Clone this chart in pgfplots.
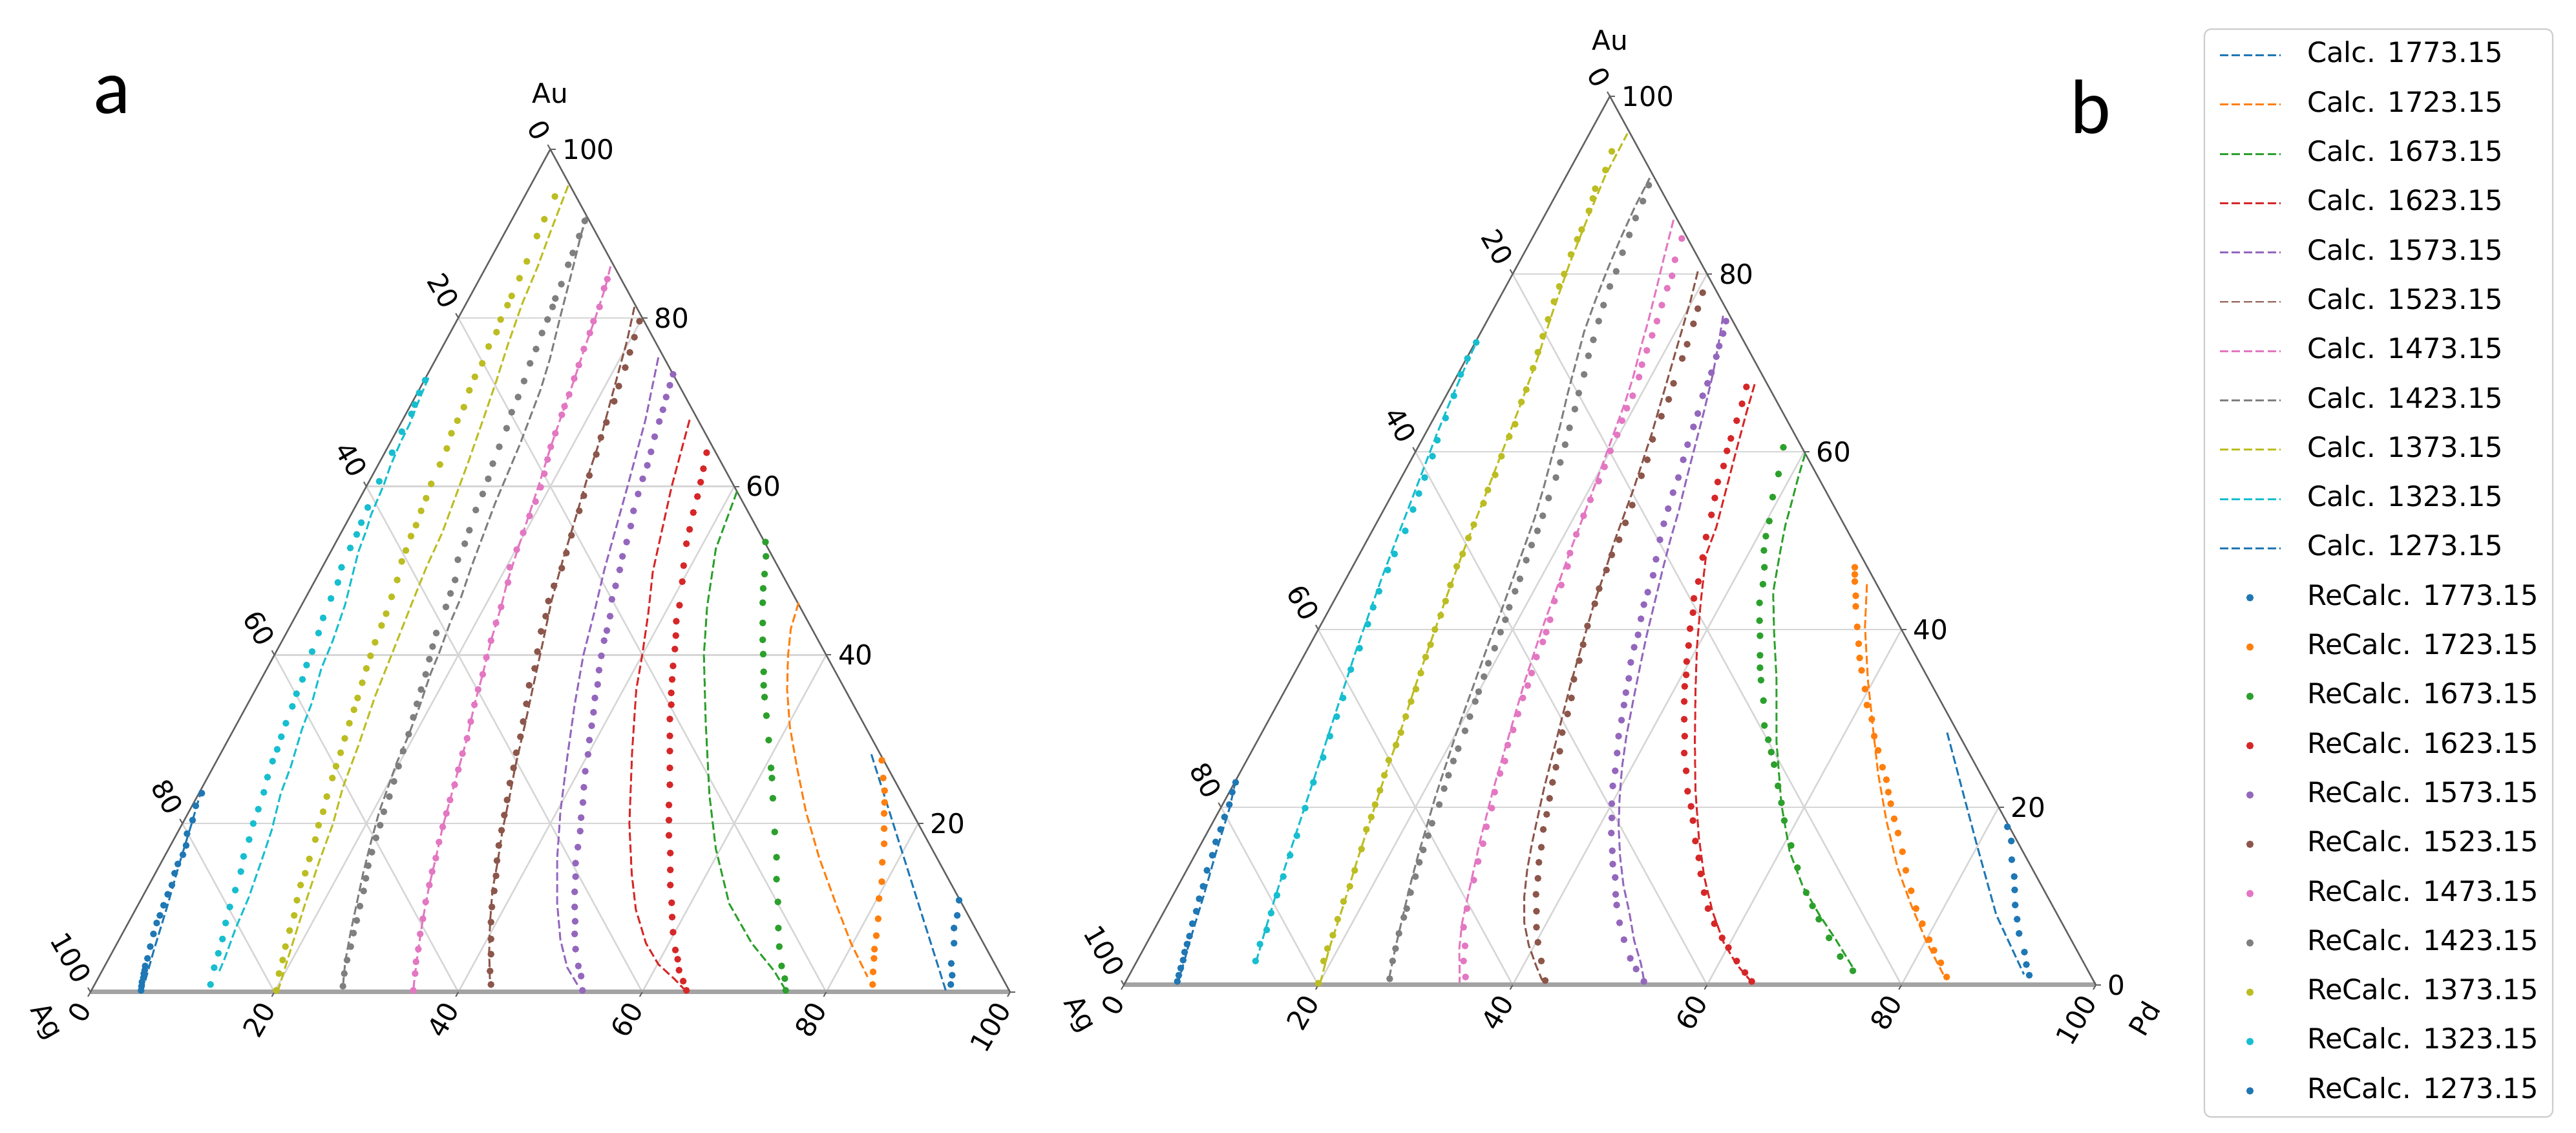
\documentclass[border=0pt]{standalone}
\usepackage{fontspec}
\setmainfont{DejaVu Sans}
\newfontfamily\panelfont{Carlito}
\usepackage{pgfplots}
\usepackage{pgfplotstable}
\pgfplotsset{compat=1.18}
\usetikzlibrary{calc}

\definecolor{cA}{HTML}{1F77B4}
\definecolor{cB}{HTML}{FF7F0E}
\definecolor{cC}{HTML}{2CA02C}
\definecolor{cD}{HTML}{D62728}
\definecolor{cE}{HTML}{9467BD}
\definecolor{cF}{HTML}{8C564B}
\definecolor{cG}{HTML}{E377C2}
\definecolor{cH}{HTML}{7F7F7F}
\definecolor{cI}{HTML}{BCBD22}
\definecolor{cJ}{HTML}{17BECF}
\definecolor{cK}{HTML}{1F77B4}

% ternary transform: x = Pd + Au/2, y = Au  (compositions in at.%)
\pgfkeys{/pgfplots/table/tern/.style={/pgfplots/table/x expr={\thisrow{Pd}+0.5*\thisrow{Au}},/pgfplots/table/y=Au}}
\pgfkeys{/pgfplots/tern/.style={/pgfplots/table/x expr={\thisrow{Pd}+0.5*\thisrow{Au}},/pgfplots/table/y=Au}}

\pgfplotsset{
  calc/.style={no markers, line width=0.85pt, dash pattern=on 0.13cm off 0.055cm,
    legend image code/.code={\draw[##1] (0cm,0cm) -- (0.94cm,0cm);}},
  recalc/.style={only marks, mark=*, mark size=1.3pt,
    legend image code/.code={\path[draw=none,fill=none] (0cm,-0.02cm) rectangle (0.94cm,0.02cm);\draw[##1] plot coordinates {(0.47cm,0cm)};}},
  ternax/.style={scale only axis, xmin=0, xmax=100, ymin=0, ymax=100,
    axis lines=none, xtick=\empty, ytick=\empty, clip=false, anchor=south west},
}
\tikzset{
  gridl/.style={draw=black!16, line width=0.025cm},
  botl/.style={draw=black!36, line width=0.07cm},
  edgel/.style={draw=black!62, line width=0.025cm},
  tickl/.style={draw=black!62, line width=0.02cm},
  tl/.style={font=\fontsize{12}{14}\selectfont, inner sep=0pt, text=black},
  rl/.style={tl, anchor=west},
  ll/.style={tl, anchor=east, rotate=-60},
  bl/.style={tl, anchor=east, rotate=60},
  cl/.style={font=\fontsize{12}{14}\selectfont, inner sep=0pt, text=black},
}

\newcommand{\ternframe}{%
\draw[gridl] (axis cs:10,20) -- (axis cs:90,20) (axis cs:20,40) -- (axis cs:80,40)
  (axis cs:30,60) -- (axis cs:70,60) (axis cs:40,80) -- (axis cs:60,80);
\draw[gridl] (axis cs:20,0) -- (axis cs:60,80) (axis cs:40,0) -- (axis cs:70,60)
  (axis cs:60,0) -- (axis cs:80,40) (axis cs:80,0) -- (axis cs:90,20);
\draw[gridl] (axis cs:80,0) -- (axis cs:40,80) (axis cs:60,0) -- (axis cs:30,60)
  (axis cs:40,0) -- (axis cs:20,40) (axis cs:20,0) -- (axis cs:10,20);
\draw[botl] (axis cs:0,0) -- (axis cs:100,0);
\draw[edgel] (axis cs:0,0) -- (axis cs:50,100) -- (axis cs:100,0);
\draw[tickl] (axis cs:100,0) -- ++(0.08cm,0) (axis cs:90,20) -- ++(0.08cm,0)
  (axis cs:80,40) -- ++(0.08cm,0) (axis cs:70,60) -- ++(0.08cm,0)
  (axis cs:60,80) -- ++(0.08cm,0) (axis cs:50,100) -- ++(0.08cm,0);
\draw[tickl] (axis cs:50,100) -- ++(-0.04cm,0.07cm) (axis cs:40,80) -- ++(-0.04cm,0.07cm)
  (axis cs:30,60) -- ++(-0.04cm,0.07cm) (axis cs:20,40) -- ++(-0.04cm,0.07cm)
  (axis cs:10,20) -- ++(-0.04cm,0.07cm) (axis cs:0,0) -- ++(-0.04cm,0.07cm);
\draw[tickl] (axis cs:0,0) -- ++(-0.04cm,-0.07cm) (axis cs:20,0) -- ++(-0.04cm,-0.07cm)
  (axis cs:40,0) -- ++(-0.04cm,-0.07cm) (axis cs:60,0) -- ++(-0.04cm,-0.07cm)
  (axis cs:80,0) -- ++(-0.04cm,-0.07cm) (axis cs:100,0) -- ++(-0.04cm,-0.07cm);
\node[rl] at ($(axis cs:90,20)+(0.18cm,0)$) {20};
\node[rl] at ($(axis cs:80,40)+(0.18cm,0)$) {40};
\node[rl] at ($(axis cs:70,60)+(0.18cm,0)$) {60};
\node[rl] at ($(axis cs:60,80)+(0.18cm,0)$) {80};
\node[rl] at ($(axis cs:50,100)+(0.18cm,0)$) {100};
\node[ll] at ($(axis cs:50,100)+(-0.096cm,0.176cm)$) {0};
\node[ll] at ($(axis cs:40,80)+(-0.096cm,0.176cm)$) {20};
\node[ll] at ($(axis cs:30,60)+(-0.096cm,0.176cm)$) {40};
\node[ll] at ($(axis cs:20,40)+(-0.096cm,0.176cm)$) {60};
\node[ll] at ($(axis cs:10,20)+(-0.096cm,0.176cm)$) {80};
\node[ll] at ($(axis cs:0,0)+(-0.096cm,0.176cm)$) {100};
\node[bl] at ($(axis cs:0,0)+(-0.10cm,-0.19cm)$) {0};
\node[bl] at ($(axis cs:20,0)+(-0.10cm,-0.19cm)$) {20};
\node[bl] at ($(axis cs:40,0)+(-0.10cm,-0.19cm)$) {40};
\node[bl] at ($(axis cs:60,0)+(-0.10cm,-0.19cm)$) {60};
\node[bl] at ($(axis cs:80,0)+(-0.10cm,-0.19cm)$) {80};
\node[bl] at ($(axis cs:100,0)+(-0.10cm,-0.19cm)$) {100};
\node[cl] at ($(axis cs:50,100)+(0,0.87cm)$) {Au};
\node[cl, rotate=-60] at ($(axis cs:0,0)+(-0.70cm,-0.46cm)$) {Ag};
}

% ================= panel a data (Pd, Au in at.%) =================
\pgfplotstableread{
Pd Au
92.9 0.2
81.7 14.4
70.5 28.6
}\aLA
\pgfplotstableread{
Pd Au
93.1 0.9
92.7 2.0
91.9 3.4
91.0 5.8
90.1 7.6
89.7 9.1
89.0 10.9
}\aDA
\pgfplotstableread{
Pd Au
53.9 46.2
54.6 43.1
55.9 39.9
57.8 35.9
60.3 31.5
63.4 26.8
67.1 21.4
71.3 15.9
75.8 10.5
79.8 5.8
83.6 1.8
}\aLB
\pgfplotstableread{
Pd Au
72.3 27.5
73.5 25.4
74.4 23.9
75.1 22.5
75.7 21.2
76.6 19.4
77.5 17.6
78.4 15.4
79.5 13.1
80.2 11.1
81.3 8.7
82.1 6.7
82.7 5.1
83.2 4.0
83.9 2.4
84.6 0.9
}\aDB
\pgfplotstableread{
Pd Au
40.6 59.4
41.7 52.6
44.2 45.7
46.7 40.0
50.9 32.0
55.6 23.4
59.5 17.0
64.2 10.5
69.0 5.8
73.1 2.5
75.4 0.3
}\aLC
\pgfplotstableread{
Pd Au
46.7 53.4
47.6 51.7
48.5 49.6
49.2 47.9
50.0 46.2
51.2 43.8
52.2 41.8
53.1 40.1
54.2 38.0
55.0 36.4
55.8 35.0
57.1 32.8
58.8 29.9
60.7 26.6
61.4 25.4
62.7 23.0
64.9 19.0
66.6 16.0
67.9 13.4
69.4 10.7
71.0 7.6
72.2 5.4
73.6 3.1
74.7 1.6
75.5 0.2
}\aDC
\pgfplotstableread{
Pd Au
31.2 67.9
33.2 60.0
36.2 49.9
38.2 44.9
40.0 40.0
41.4 35.9
44.6 28.6
48.6 20.0
51.8 14.1
54.4 9.8
57.5 5.8
60.1 3.3
62.8 1.5
64.3 0.4
}\aLD
\pgfplotstableread{
Pd Au
35.0 64.0
35.6 62.1
36.1 60.5
36.6 58.8
37.1 56.9
37.7 54.9
38.2 53.2
39.2 50.6
40.0 48.7
41.1 45.9
41.7 44.0
42.5 42.3
43.2 40.7
44.0 38.7
44.7 37.1
45.4 35.5
46.1 34.1
46.8 32.4
47.8 30.4
48.7 28.6
49.7 26.6
50.7 24.6
51.8 22.2
52.7 20.4
53.6 18.6
54.8 16.5
55.8 14.5
56.7 12.7
57.9 10.6
58.8 8.9
59.8 7.1
61.1 5.0
61.9 3.9
62.7 2.6
63.8 1.3
64.7 0.2
}\aDD
\pgfplotstableread{
Pd Au
24.1 75.3
26.4 67.9
28.4 60.0
30.8 50.2
32.3 44.9
33.6 40.0
35.6 34.1
37.9 27.9
40.4 21.4
42.8 15.9
45.5 10.5
48.0 6.2
50.4 2.9
52.7 0.7
}\aLE
\pgfplotstableread{
Pd Au
26.7 73.3
27.0 72.0
27.3 70.6
27.7 69.1
28.0 67.7
28.4 65.9
28.9 64.1
29.3 62.5
29.6 60.9
30.0 59.1
30.5 57.1
31.1 55.3
31.6 53.4
32.0 51.7
32.5 50.1
33.0 48.2
33.4 46.6
34.2 44.6
34.7 42.9
35.0 41.7
35.6 39.9
36.2 38.2
36.9 36.5
37.4 34.9
38.1 33.2
38.7 31.6
39.3 29.9
40.0 28.2
40.7 26.2
41.5 24.3
42.3 22.5
43.0 20.7
43.7 19.1
44.4 17.2
45.1 15.3
45.9 13.7
46.7 11.9
47.6 10.1
48.5 8.4
49.2 6.9
50.2 5.1
51.5 3.1
52.4 1.9
53.4 0.2
}\aDE
\pgfplotstableread{
Pd Au
18.5 81.3
19.7 77.3
20.6 73.7
21.5 70.1
22.6 65.8
23.5 61.1
24.5 56.8
25.7 51.4
26.9 46.5
28.5 41.3
29.9 36.6
31.3 32.0
32.8 26.8
34.1 22.8
35.2 19.2
36.5 15.6
37.7 12.0
39.3 8.3
41.0 4.7
43.0 0.9
}\aLF
\pgfplotstableread{
Pd Au
19.9 79.6
20.3 77.7
20.7 75.9
21.1 74.1
21.5 71.9
21.9 70.1
22.3 67.6
22.6 65.8
23.1 63.8
23.6 61.3
24.2 58.9
24.6 57.1
25.2 54.2
25.7 52.1
26.1 50.3
26.3 48.2
26.6 46.4
27.2 44.6
27.6 42.8
28.4 40.4
29.1 38.4
29.5 36.4
30.3 34.2
31.0 32.1
31.6 30.3
32.1 28.4
32.7 26.6
33.2 24.8
33.9 22.8
34.5 21.0
35.1 19.2
35.7 17.4
36.4 15.6
37.2 13.8
37.9 12.0
38.6 10.1
39.4 8.3
40.4 6.3
41.3 4.5
42.2 2.5
43.1 0.9
}\aDF
\pgfplotstableread{
Pd Au
13.5 86.1
14.2 83.5
14.9 80.0
15.6 76.0
16.3 72.5
17.0 68.5
17.7 64.7
18.6 60.5
19.4 56.5
20.3 52.0
21.0 48.6
21.8 45.7
22.7 41.7
23.8 37.7
24.7 34.1
25.9 30.1
26.8 26.4
27.7 22.8
28.5 19.6
29.6 15.9
30.5 12.7
31.8 8.7
33.1 5.1
34.2 2.2
35.0 0.2
}\aLG
\pgfplotstableread{
Pd Au
13.9 84.6
14.1 83.5
14.7 81.3
14.9 79.6
15.2 78.2
15.5 76.3
15.9 74.4
16.2 72.8
16.6 70.9
16.8 69.5
17.0 68.5
17.4 66.3
17.7 64.7
18.1 63.2
18.6 61.5
19.0 59.9
19.3 58.2
19.5 56.5
19.8 54.5
20.1 52.5
20.4 50.4
21.1 48.6
21.8 45.7
22.2 43.8
22.7 41.7
23.2 39.7
23.8 37.7
24.2 35.9
24.7 34.1
25.3 32.1
25.9 30.1
26.3 28.3
26.8 26.4
27.3 24.6
27.7 22.8
28.1 21.2
28.5 19.6
29.0 17.8
29.6 15.9
30.0 14.3
30.5 12.7
31.1 10.7
31.8 8.7
32.4 6.9
33.1 5.1
33.6 3.6
34.2 2.2
35.0 0.2
}\aDG
\pgfplotstableread{
Pd Au
7.9 92.1
8.4 89.9
9.5 85.9
11.0 80.2
12.4 75.1
13.2 71.5
14.2 65.0
15.0 58.0
16.2 50.4
16.9 46.7
17.2 43.8
17.8 40.2
18.1 37.7
18.8 34.1
19.4 30.1
19.7 27.2
20.2 24.3
20.7 21.4
21.6 17.8
22.6 14.1
23.7 10.5
24.8 6.9
25.9 3.6
27.1 0.7
}\aLH
\pgfplotstableread{
Pd Au
8.0 91.5
8.3 89.7
8.6 87.7
8.8 86.3
9.2 84.0
9.4 82.3
9.6 81.3
9.8 79.8
10.0 78.2
10.3 76.3
10.5 74.6
10.9 72.5
11.2 70.6
11.4 68.8
11.8 66.9
12.1 64.7
12.4 62.7
12.8 60.9
13.1 59.1
13.3 57.2
13.8 54.8
14.1 53.2
14.3 51.3
15.2 48.9
15.5 47.3
15.8 45.7
16.3 42.6
16.7 41.0
17.1 39.5
17.6 37.7
18.0 35.9
18.4 34.2
18.8 32.6
19.3 30.6
19.7 28.6
20.1 26.8
20.5 25.0
20.9 23.2
21.2 21.4
21.6 19.8
21.9 18.3
22.3 16.6
22.7 15.0
23.2 13.5
23.7 12.0
24.2 10.2
24.7 8.5
25.1 7.0
25.6 5.4
26.0 3.8
26.5 2.2
27.1 0.7
}\aDH
\pgfplotstableread{
Pd Au
4.1 95.7
4.9 90.3
5.6 86.0
6.1 81.7
7.0 76.7
7.9 72.4
8.7 68.1
9.6 63.1
10.3 58.8
11.0 54.5
11.3 50.6
11.9 46.0
12.6 41.0
13.4 35.1
14.5 29.3
15.3 24.3
16.4 19.9
17.1 15.6
18.1 10.5
19.0 6.2
19.8 2.5
20.3 0.2
}\aLI
\pgfplotstableread{
Pd Au
3.3 94.4
3.5 91.7
3.7 89.7
4.1 86.7
4.3 84.7
4.5 82.6
4.6 81.5
4.7 79.8
5.0 78.3
5.0 76.6
5.3 74.6
5.3 73.0
5.5 71.4
5.9 69.4
6.0 67.8
6.1 66.3
6.5 64.5
6.7 62.6
6.9 60.3
7.2 58.6
7.4 57.1
7.7 55.4
7.8 54.1
8.1 52.4
8.3 51.1
8.9 48.9
9.3 46.9
9.7 44.9
9.9 43.5
10.2 41.5
10.5 39.9
10.8 38.4
11.2 36.7
11.6 34.9
11.9 33.5
12.2 31.9
12.6 30.1
13.0 28.4
13.3 26.8
13.6 25.4
14.1 23.2
14.6 21.4
14.9 19.8
15.4 18.1
15.9 15.8
16.3 14.1
16.5 12.7
17.0 10.9
17.6 9.1
18.0 7.3
18.5 5.4
19.0 3.8
19.4 2.2
20.1 0.2
}\aDI
\pgfplotstableread{
Pd Au
0.3 72.9
0.6 70.3
1.0 67.4
1.1 65.2
1.4 62.4
1.8 60.2
2.0 58.4
2.2 56.6
2.6 54.8
3.0 52.3
3.5 50.4
4.7 46.0
5.5 41.7
5.9 38.4
6.9 34.4
7.4 31.2
8.4 26.8
8.9 23.6
10.1 19.2
10.8 15.6
11.6 11.2
12.0 7.6
12.6 4.0
12.8 2.2
}\aLJ
\pgfplotstableread{
Pd Au
0.1 72.6
0.2 71.1
0.4 69.7
0.6 68.6
0.6 66.5
0.8 64.0
1.1 60.6
1.4 57.5
1.6 55.7
1.8 54.3
1.9 52.7
2.1 50.4
2.6 48.6
2.8 46.7
3.1 44.4
3.5 42.6
3.9 40.4
4.1 38.8
4.5 37.1
4.7 35.4
5.0 33.9
5.3 31.9
5.6 30.3
5.9 28.8
6.1 27.4
6.5 25.5
7.0 23.7
7.4 21.7
7.7 20.0
8.2 18.1
8.6 16.1
9.2 14.3
9.7 12.1
10.1 10.1
10.6 8.2
11.2 6.3
11.6 4.6
12.0 2.9
12.6 0.9
}\aDJ
\pgfplotstableread{
Pd Au
5.6 0.0
4.4 5.0
3.3 10.0
2.1 15.0
1.0 20.0
0.1 23.9
}\aLK
\pgfplotstableread{
Pd Au
5.4 0.2
5.2 0.7
5.0 1.2
4.9 1.7
4.7 2.2
4.6 2.6
4.4 3.1
4.2 4.0
3.8 5.4
3.4 6.9
3.1 8.2
3.0 9.1
2.8 10.3
2.6 11.6
2.5 12.7
2.1 14.1
1.9 15.2
1.9 16.3
1.7 17.4
1.1 18.8
0.9 20.4
0.4 22.1
0.3 23.6
}\aDK

% ================= panel b data (Pd, Au in at.%) =================
\pgfplotstableread{
Pd Au
70.5 28.4
79.7 16.0
85.8 7.9
92.0 1.2
}\bLA
\pgfplotstableread{
Pd Au
82.0 17.8
83.2 16.2
84.3 14.1
85.5 12.2
86.3 10.7
87.2 9.0
88.2 7.4
89.2 5.8
90.8 3.7
91.7 2.3
92.6 1.1
}\bDA
\pgfplotstableread{
Pd Au
53.9 45.1
56.1 40.3
59.4 34.3
62.5 29.1
65.7 23.8
69.2 18.5
73.0 13.2
76.5 9.0
80.2 4.8
83.7 1.2
}\bLB
\pgfplotstableread{
Pd Au
51.7 47.0
52.1 46.2
52.5 45.4
53.4 43.8
54.0 42.6
55.3 40.3
56.4 38.4
57.3 36.8
58.2 35.4
59.6 33.3
60.7 31.5
62.0 29.9
63.2 28.0
64.4 26.4
65.8 24.5
66.9 23.1
67.8 21.7
68.7 20.4
69.9 18.7
71.1 17.1
72.6 15.0
74.0 12.9
75.7 10.6
77.2 8.6
78.7 6.9
80.3 5.1
81.4 3.9
82.8 2.5
84.2 0.9
}\bDB
\pgfplotstableread{
Pd Au
40.2 59.8
40.8 57.2
41.5 54.5
42.2 51.7
43.1 48.9
44.7 44.2
47.1 39.6
50.0 34.3
53.5 27.3
57.5 20.3
61.0 15.0
64.3 11.1
67.6 7.9
70.7 5.1
74.4 1.6
}\bLC
\pgfplotstableread{
Pd Au
37.6 60.5
38.6 57.5
39.3 54.9
40.3 52.2
40.8 50.5
41.4 48.9
42.4 47.0
43.2 45.1
43.9 43.0
44.9 41.0
45.8 39.3
46.9 37.1
47.6 35.7
48.4 34.3
49.8 32.0
51.3 29.2
52.5 27.6
53.5 26.2
54.5 24.8
56.1 22.4
57.4 20.5
58.7 18.5
60.8 15.7
62.7 13.2
65.0 10.4
66.4 8.9
67.8 7.4
69.9 5.3
72.1 3.2
74.2 1.6
}\bDC
\pgfplotstableread{
Pd Au
31.1 67.6
31.9 64.2
33.0 59.9
34.1 55.7
35.2 51.5
35.7 48.4
37.8 43.1
40.0 37.9
42.5 32.6
45.1 27.3
47.8 22.0
50.8 16.7
53.6 12.2
56.4 8.3
59.3 4.8
61.9 2.3
64.2 0.5
}\bLD
\pgfplotstableread{
Pd Au
30.4 67.3
30.9 65.4
31.3 63.5
31.7 61.5
32.0 60.1
32.5 58.4
32.8 56.6
33.4 54.8
34.0 52.9
34.7 50.4
35.5 48.1
36.4 45.4
36.9 43.5
37.6 41.9
38.2 40.1
39.0 38.2
39.7 36.4
40.4 34.9
40.9 33.6
41.7 31.9
42.7 29.9
43.7 28.0
44.6 26.1
45.8 24.1
47.1 21.8
48.3 20.1
49.3 18.5
50.7 16.2
52.0 14.3
53.1 12.5
54.5 10.4
55.8 8.6
57.3 6.9
58.9 5.3
60.1 4.2
61.7 2.7
63.2 1.4
64.4 0.4
}\bDD
\pgfplotstableread{
Pd Au
24.0 75.3
25.2 71.9
26.3 68.5
27.4 64.6
28.4 60.8
29.4 57.0
30.4 53.4
31.2 50.0
32.1 46.6
33.1 43.0
34.1 39.4
35.2 35.8
36.4 32.0
37.7 28.0
39.0 24.5
40.5 21.0
42.0 17.8
43.8 14.5
45.8 11.2
47.9 8.2
50.0 5.0
52.0 2.4
53.4 0.3
}\bLE
\pgfplotstableread{
Pd Au
24.6 74.7
25.0 73.3
25.3 71.9
25.6 70.7
26.0 68.9
26.2 67.7
26.4 66.3
26.9 64.3
27.2 62.8
27.6 60.8
28.0 59.1
28.5 57.1
28.8 55.4
29.2 53.6
29.6 51.9
30.1 50.1
30.8 47.9
31.4 46.1
31.8 44.2
32.1 42.8
32.6 41.2
33.2 39.4
33.5 38.0
34.0 36.3
34.7 34.5
35.2 32.9
35.7 31.5
36.3 29.8
36.9 28.0
37.7 26.1
38.5 24.1
39.1 22.4
40.0 20.4
40.8 18.8
41.6 17.1
42.7 15.1
43.5 13.6
44.5 12.1
45.5 10.2
46.2 9.0
47.5 7.0
48.9 5.1
50.6 3.0
51.8 1.8
53.3 0.4
}\bDE
\pgfplotstableread{
Pd Au
18.9 80.3
19.8 77.0
20.5 74.0
21.2 71.0
21.9 68.0
22.6 65.0
23.3 62.0
23.9 59.0
24.5 56.0
25.0 53.0
25.5 50.0
26.2 46.7
26.9 43.0
27.6 40.0
28.3 37.0
29.0 34.0
29.8 31.0
30.6 28.0
31.4 25.0
32.2 22.0
33.1 19.0
34.0 16.0
35.0 13.0
36.2 10.0
37.7 7.0
39.4 4.5
41.3 2.2
42.8 0.5
}\bLF
\pgfplotstableread{
Pd Au
20.6 77.9
21.0 76.1
21.4 74.4
21.9 72.1
22.2 70.5
22.7 67.7
23.1 65.9
23.3 64.0
23.7 61.4
24.3 59.1
24.6 57.3
25.3 54.0
25.6 52.0
25.9 50.1
26.0 48.4
26.3 46.7
26.6 44.6
27.0 42.9
27.5 40.4
28.1 38.3
28.6 36.5
29.1 34.4
29.9 32.3
30.4 30.5
30.9 28.4
31.7 26.3
32.2 24.5
32.7 22.8
33.3 21.0
33.9 19.2
34.4 17.5
35.2 15.5
35.8 13.8
36.6 12.0
37.3 10.2
38.3 8.3
39.2 6.5
40.2 4.8
41.6 2.7
43.1 0.5
}\bDF
\pgfplotstableread{
Pd Au
13.5 86.1
14.6 82.0
15.6 78.4
16.6 74.7
17.4 71.4
18.2 68.4
18.8 65.5
19.3 62.5
19.8 59.5
20.3 56.5
20.9 52.8
21.4 49.5
21.9 46.5
22.5 43.0
23.0 40.0
23.6 37.0
24.2 34.0
24.9 31.0
25.6 28.0
26.3 25.0
27.0 22.0
27.8 19.0
28.6 16.0
29.5 13.0
30.4 10.0
31.3 7.0
32.5 4.0
33.8 1.5
34.4 0.3
}\bLG
\pgfplotstableread{
Pd Au
15.4 84.0
15.9 81.6
16.5 79.8
16.7 78.4
17.1 76.5
17.5 74.7
17.8 73.1
18.1 71.4
18.4 69.8
18.8 68.4
19.2 66.3
19.3 64.9
19.5 63.5
19.8 61.9
20.0 60.1
20.3 58.3
20.5 56.7
20.7 54.6
20.9 52.8
21.2 50.7
21.6 48.6
22.1 47.1
22.5 45.0
22.7 43.2
23.3 41.1
23.6 39.7
23.8 38.6
24.0 36.9
24.4 35.1
24.7 33.7
24.9 32.3
25.3 30.5
25.7 28.7
26.0 27.0
26.6 25.2
26.8 23.8
27.3 21.7
27.9 19.9
28.4 17.8
29.0 15.9
29.5 13.9
30.1 11.8
31.0 8.6
31.7 6.5
32.9 4.4
33.6 2.7
34.7 0.9
}\bDG
\pgfplotstableread{
Pd Au
26.9 0.8
25.9 4.0
24.9 7.5
23.9 11.0
23.0 14.5
22.2 18.0
21.5 21.0
20.8 24.5
20.1 28.0
19.5 31.5
18.9 35.0
18.3 38.5
17.8 42.0
17.2 45.5
16.6 49.0
16.0 52.5
15.2 56.0
14.3 59.5
13.4 63.0
12.4 66.5
11.5 70.0
10.6 73.5
10.0 77.0
9.5 80.5
9.1 84.0
8.8 87.5
8.7 90.8
}\bLH
\pgfplotstableread{
Pd Au
27.0 0.7
26.3 2.7
25.9 4.1
25.4 5.8
25.0 7.6
24.8 8.6
24.3 10.4
23.9 12.2
23.5 13.8
23.2 15.2
22.9 16.8
22.6 18.2
22.3 20.3
21.9 22.1
21.6 23.6
21.3 25.2
21.1 26.6
20.8 28.6
20.5 30.2
20.2 31.9
20.0 33.0
19.7 34.7
19.4 36.2
19.2 37.9
18.9 39.7
18.7 41.1
18.4 42.5
18.1 44.3
17.9 45.7
17.5 47.8
17.2 49.5
17.0 51.1
16.7 52.8
16.3 54.8
15.9 57.1
15.5 58.8
15.0 60.8
14.5 62.7
14.0 64.8
13.5 66.6
13.0 68.7
12.4 70.8
12.0 72.6
11.5 74.7
11.1 76.5
10.7 78.6
10.5 80.3
10.1 82.4
9.8 84.4
9.5 86.3
9.3 88.2
9.0 90.0
}\bDH
\pgfplotstableread{
Pd Au
20.1 0.2
19.1 4.0
18.1 9.0
17.0 14.0
16.0 19.0
15.0 24.0
14.1 29.0
13.1 34.0
12.2 39.0
11.3 44.0
10.5 49.0
9.8 54.0
9.0 59.5
8.2 65.0
7.3 70.5
6.2 76.0
5.3 81.0
4.6 86.0
4.0 91.0
3.9 95.8
}\bLI
\pgfplotstableread{
Pd Au
19.9 0.2
19.2 2.7
18.9 4.1
18.7 5.6
18.3 7.4
17.9 9.4
17.7 11.1
17.3 12.9
16.8 15.3
16.2 17.5
16.0 18.9
15.7 20.3
15.4 21.9
15.0 23.6
14.6 25.3
14.5 27.0
14.3 28.4
13.9 30.2
13.6 31.9
13.4 33.3
13.0 35.1
12.6 36.9
12.4 38.3
12.0 40.0
11.8 41.6
11.5 43.2
11.1 45.0
10.7 47.1
10.6 48.5
10.3 50.3
10.1 51.8
9.9 54.2
9.6 55.7
9.5 57.4
9.1 59.5
8.8 61.7
8.7 63.1
8.1 65.6
7.9 67.0
7.4 69.4
7.0 71.2
6.6 73.0
6.2 74.9
5.8 76.9
5.5 78.6
5.3 80.0
4.9 82.2
4.7 83.9
4.6 85.0
4.3 87.1
4.0 88.5
3.7 89.6
3.7 91.7
3.3 93.8
}\bDI
\pgfplotstableread{
Pd Au
12.3 2.6
11.5 6.0
10.6 10.0
9.7 14.5
8.7 19.5
7.8 24.0
6.9 28.5
6.0 33.0
5.1 37.5
4.3 42.0
3.6 46.0
3.0 50.0
2.4 54.0
1.8 58.0
1.2 62.0
0.7 66.0
0.3 70.0
0.1 72.5
}\bLJ
\pgfplotstableread{
Pd Au
12.2 2.7
11.7 4.6
11.6 6.2
11.1 8.1
10.7 10.1
10.3 12.2
9.8 14.6
9.4 16.8
8.7 19.9
8.1 22.8
7.7 25.6
7.2 28.0
6.8 30.2
6.4 32.3
5.6 35.5
5.3 37.9
4.8 40.6
4.4 42.5
4.1 44.3
3.8 46.7
3.6 48.5
3.4 51.1
3.0 53.5
2.7 55.3
2.4 57.1
2.0 59.5
1.6 61.3
1.2 63.8
0.8 66.3
0.3 68.7
0.1 70.5
0.1 72.3
}\bDJ
\pgfplotstableread{
Pd Au
5.5 0.1
4.3 5.0
3.2 10.0
2.0 15.0
0.9 20.0
0.0 23.0
}\bLK
\pgfplotstableread{
Pd Au
5.3 0.4
5.1 1.1
4.9 1.9
4.7 2.8
4.4 3.7
4.2 4.6
4.0 5.5
3.6 6.9
3.3 8.3
2.9 9.7
2.6 11.1
2.1 12.9
1.8 14.6
1.4 16.1
1.2 17.5
0.9 18.9
0.7 20.3
0.3 21.7
0.1 22.8
}\bDK

\begin{document}
\begin{tikzpicture}
\path[use as bounding box] (0,0) rectangle (39.86,17.53);

% ---------------- panel a ----------------
\begin{axis}[ternax, at={(1.40cm,2.18cm)}, width=14.23cm, height=13.04cm]
\ternframe
\addplot[calc, cA] table[tern] {\aLA};
\addplot[calc, cB] table[tern] {\aLB};
\addplot[calc, cC] table[tern] {\aLC};
\addplot[calc, cD] table[tern] {\aLD};
\addplot[calc, cE] table[tern] {\aLE};
\addplot[calc, cF] table[tern] {\aLF};
\addplot[calc, cG] table[tern] {\aLG};
\addplot[calc, cH] table[tern] {\aLH};
\addplot[calc, cI] table[tern] {\aLI};
\addplot[calc, cJ] table[tern] {\aLJ};
\addplot[calc, cK] table[tern] {\aLK};
\addplot[recalc, cA] table[tern] {\aDA};
\addplot[recalc, cB] table[tern] {\aDB};
\addplot[recalc, cC] table[tern] {\aDC};
\addplot[recalc, cD] table[tern] {\aDD};
\addplot[recalc, cE] table[tern] {\aDE};
\addplot[recalc, cF] table[tern] {\aDF};
\addplot[recalc, cG] table[tern] {\aDG};
\addplot[recalc, cH] table[tern] {\aDH};
\addplot[recalc, cI] table[tern] {\aDI};
\addplot[recalc, cJ] table[tern] {\aDJ};
\addplot[recalc, cK] table[tern] {\aDK};
\end{axis}

% ---------------- panel b ----------------
\begin{axis}[ternax, at={(17.39cm,2.29cm)}, width=15.04cm, height=13.75cm,
  legend cell align=left,
  legend style={at={(1.111,1.0764)}, anchor=north west,
    draw=black!20, line width=0.6pt, rounded corners=3pt, fill=white,
    font=\fontsize{12.3}{14}\selectfont,
    inner xsep=0.22cm, inner ysep=0.19cm,
    row sep=0.333cm, column sep=0.40cm,
    nodes={inner sep=0pt, text height=0.33cm, text depth=0.1cm}}]
\ternframe
\node[rl] at ($(axis cs:100,0)+(0.18cm,0)$) {0};
\node[cl, rotate=60] at ($(axis cs:100,0)+(0.75cm,-0.52cm)$) {Pd};
\addplot[calc, cA] table[tern] {\bLA}; \addlegendentry{Calc. 1773.15}
\addplot[calc, cB] table[tern] {\bLB}; \addlegendentry{Calc. 1723.15}
\addplot[calc, cC] table[tern] {\bLC}; \addlegendentry{Calc. 1673.15}
\addplot[calc, cD] table[tern] {\bLD}; \addlegendentry{Calc. 1623.15}
\addplot[calc, cE] table[tern] {\bLE}; \addlegendentry{Calc. 1573.15}
\addplot[calc, cF] table[tern] {\bLF}; \addlegendentry{Calc. 1523.15}
\addplot[calc, cG] table[tern] {\bLG}; \addlegendentry{Calc. 1473.15}
\addplot[calc, cH] table[tern] {\bLH}; \addlegendentry{Calc. 1423.15}
\addplot[calc, cI] table[tern] {\bLI}; \addlegendentry{Calc. 1373.15}
\addplot[calc, cJ] table[tern] {\bLJ}; \addlegendentry{Calc. 1323.15}
\addplot[calc, cK] table[tern] {\bLK}; \addlegendentry{Calc. 1273.15}
\addplot[recalc, cA] table[tern] {\bDA}; \addlegendentry{ReCalc. 1773.15}
\addplot[recalc, cB] table[tern] {\bDB}; \addlegendentry{ReCalc. 1723.15}
\addplot[recalc, cC] table[tern] {\bDC}; \addlegendentry{ReCalc. 1673.15}
\addplot[recalc, cD] table[tern] {\bDD}; \addlegendentry{ReCalc. 1623.15}
\addplot[recalc, cE] table[tern] {\bDE}; \addlegendentry{ReCalc. 1573.15}
\addplot[recalc, cF] table[tern] {\bDF}; \addlegendentry{ReCalc. 1523.15}
\addplot[recalc, cG] table[tern] {\bDG}; \addlegendentry{ReCalc. 1473.15}
\addplot[recalc, cH] table[tern] {\bDH}; \addlegendentry{ReCalc. 1423.15}
\addplot[recalc, cI] table[tern] {\bDI}; \addlegendentry{ReCalc. 1373.15}
\addplot[recalc, cJ] table[tern] {\bDJ}; \addlegendentry{ReCalc. 1323.15}
\addplot[recalc, cK] table[tern] {\bDK}; \addlegendentry{ReCalc. 1273.15}
\end{axis}

\node[font=\panelfont\fontsize{34}{38}\selectfont, inner sep=0pt] at (1.73,16.06) {a};
\node[font=\panelfont\fontsize{34}{38}\selectfont, inner sep=0pt] at (32.35,15.88) {b};
\end{tikzpicture}
\end{document}
